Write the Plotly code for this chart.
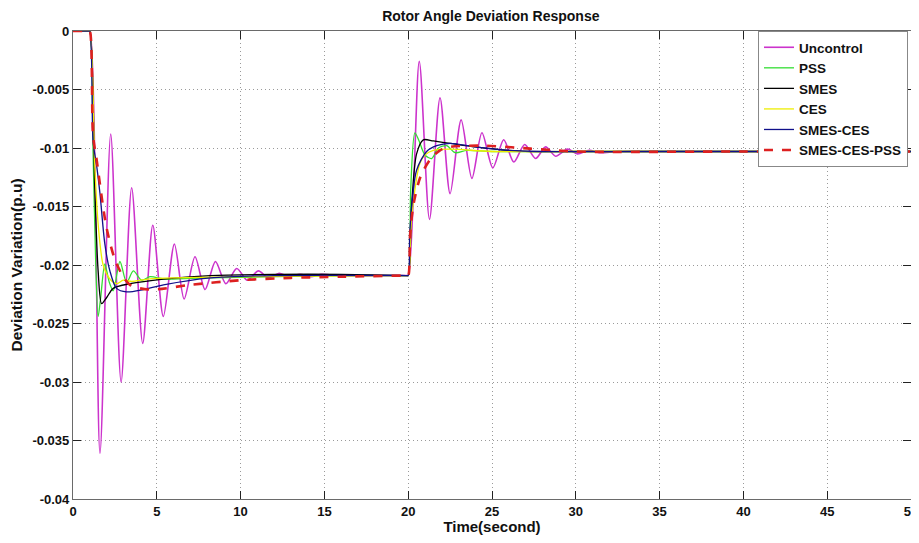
import plotly.graph_objects as go

# ---------------- data ----------------
t_unc = [0, 0.92, 1.0, 1.61, 2.25, 2.87, 3.5, 4.16, 4.76, 5.39, 6.05, 6.63, 7.28, 7.88, 8.5, 9.12, 9.77,
         10.4, 11.06, 11.65, 12.3, 12.9, 13.55, 14.2, 14.8, 16, 18, 19.9, 20.0, 20.66, 21.27, 21.9,
         22.5, 23.16, 23.8, 24.4, 25.05, 25.7, 26.3, 26.95, 27.6, 28.2, 28.8, 29.5, 30.1, 30.8,
         31.4, 32.5, 35, 40, 45, 50]
y_unc = [0, 0, 0, -0.0361, -0.0088, -0.0300, -0.0134, -0.0267, -0.0166, -0.0244, -0.0182, -0.0229,
         -0.0193, -0.0221, -0.0197, -0.0216, -0.0203, -0.0213, -0.0205, -0.0211, -0.0207, -0.0210,
         -0.0208, -0.0210, -0.0208, -0.0209, -0.0209, -0.0209, -0.0209, -0.0026, -0.0161, -0.0057,
         -0.0139, -0.0076, -0.0126, -0.0087, -0.0117, -0.0093, -0.0112, -0.0097, -0.0109, -0.0099,
         -0.0107, -0.0101, -0.0105, -0.0102, -0.0104, -0.0103, -0.0103, -0.0103, -0.0103, -0.0103]

t_pss = [0, 0.92, 1.0, 1.2, 1.35, 1.5, 1.65, 1.9, 2.15, 2.4, 2.8, 3.2, 3.6, 4.1, 4.6, 5.5, 8, 12, 16,
         19.9, 20.0, 20.15, 20.4, 20.65, 21.0, 21.4, 21.8, 22.3, 22.8, 23.5, 25, 30, 40, 50]
y_pss = [0, 0, 0, -0.0105, -0.0195, -0.0244, -0.0228, -0.0199, -0.0214, -0.0222, -0.0197, -0.0215,
         -0.0205, -0.0213, -0.0210, -0.0212, -0.0211, -0.0210, -0.0209, -0.0209, -0.0209, -0.0135,
         -0.0087, -0.0094, -0.0106, -0.0109, -0.0100, -0.0098, -0.0104, -0.0102, -0.0103, -0.0103,
         -0.0103, -0.0103]

t_smes = [0, 0.92, 1.0, 1.3, 1.5, 1.71, 2.0, 2.4, 3.4, 5.4, 8.2, 12, 16, 19.9, 20.0, 20.2, 20.5, 20.9,
          21.5, 22.5, 24, 26, 27.3, 30, 40, 50]
y_smes = [0, 0, 0, -0.0135, -0.0205, -0.0233, -0.0228, -0.0220, -0.0216, -0.0212, -0.0209, -0.0208,
          -0.0208, -0.0209, -0.0209, -0.0150, -0.0105, -0.0093, -0.0094, -0.0096, -0.0099, -0.0102,
          -0.0103, -0.0103, -0.0103, -0.0103]

t_ces = [0, 0.92, 1.0, 1.3, 1.5, 1.8, 2.2, 2.6, 3.0, 3.5, 4.5, 6, 10, 19.9, 20.0, 20.2, 20.7, 21.0, 21.5,
         22.5, 25, 30, 50]
y_ces = [0, 0, 0, -0.0115, -0.0165, -0.0200, -0.0212, -0.0216, -0.0213, -0.0214, -0.0212, -0.0211,
         -0.0210, -0.0209, -0.0209, -0.0160, -0.0113, -0.0106, -0.0102, -0.0101, -0.0103, -0.0103,
         -0.0103]

t_sc = [0, 0.92, 1.0, 1.2, 1.41, 1.61, 1.9, 2.2, 2.6, 3.2, 4.2, 5.4, 8.2, 12, 19.9, 20.0, 20.1, 20.5,
        21.1, 21.7, 22.5, 24, 26, 28, 35, 50]
y_sc = [0, 0, 0, -0.0095, -0.0115, -0.0139, -0.0182, -0.0205, -0.0220, -0.0223, -0.0221, -0.0217,
        -0.0211, -0.0209, -0.0209, -0.0209, -0.0170, -0.0119, -0.0103, -0.0098, -0.0096, -0.0099,
        -0.0102, -0.0103, -0.0103, -0.0103]

t_scp = [0, 0.92, 1.0, 1.2, 1.41, 2.0, 2.6, 3.4, 4.6, 7, 10, 13, 16, 19.9, 20.0, 20.12, 20.32, 20.72,
         21.3, 21.9, 22.5, 24.5, 27.3, 30, 40, 50]
y_scp = [0, 0, 0, -0.0090, -0.0110, -0.0168, -0.0199, -0.0217, -0.0221, -0.0217, -0.0213, -0.0211,
         -0.0210, -0.0209, -0.0209, -0.0173, -0.0148, -0.0125, -0.0110, -0.0102, -0.0099, -0.0098,
         -0.01005, -0.0103, -0.0103, -0.0103]

series_names = ["Uncontrol", "PSS", "SMES", "CES", "SMES-CES", "SMES-CES-PSS"]

x_tick_vals = [0, 5, 10, 15, 20, 25, 30, 35, 40, 45, 50]
x_tick_text = ["0", "5", "10", "15", "20", "25", "30", "35", "40", "45", "50"]
y_tick_vals = [0, -0.005, -0.01, -0.015, -0.02, -0.025, -0.03, -0.035, -0.04]
y_tick_text = ["0", "-0.005", "-0.01", "-0.015", "-0.02", "-0.025", "-0.03", "-0.035", "-0.04"]

# ---------------- figure ----------------
FONT = "Liberation Sans, Arial, sans-serif"

styles = [
    dict(color="#cc33cc", width=1.6),
    dict(color="#33dd33", width=1.3),
    dict(color="#000000", width=1.3),
    dict(color="#eeee00", width=1.3),
    dict(color="#10108a", width=1.3),
    dict(color="#dd2020", width=2.6, dash="dash"),
]
data = [(t_unc, y_unc), (t_pss, y_pss), (t_smes, y_smes), (t_ces, y_ces), (t_sc, y_sc), (t_scp, y_scp)]

fig = go.Figure()
for (tx, ty), name, st in zip(data, series_names, styles):
    fig.add_trace(go.Scatter(x=tx, y=ty, mode="lines", name=name,
                             line=dict(shape="spline", smoothing=0.8, **st)))

axis_common = dict(
    showgrid=True, gridcolor="#9a9a9a", griddash="1px,3px", gridwidth=1,
    showline=True, linecolor="#6a6a6a", linewidth=1.2, mirror="ticks",
    ticks="inside", ticklen=8, tickcolor="#222222", tickwidth=1.2,
    zeroline=False, automargin=False,
    tickfont=dict(family=FONT, size=13, color="#111111", weight="bold"),
)

# The page body adds an 8px offset, so the figure is placed at (8, 8) in the window.
fig.update_layout(
    width=911, height=527,
    margin=dict(l=65, r=8, t=23, b=36, autoexpand=False),
    paper_bgcolor="white", plot_bgcolor="white",
    title=dict(text="Rotor Angle Deviation Response", x=0.53, xanchor="center",
               y=0.993, yanchor="top", pad=dict(t=0, b=0), automargin=False,
               font=dict(family=FONT, size=14, color="#111111", weight="bold")),
    xaxis=dict(range=[0, 50], tickvals=x_tick_vals, ticktext=x_tick_text,
               title=dict(text="Time(second)", standoff=0,
                          font=dict(family=FONT, size=15, color="#111111", weight="bold")),
               **axis_common),
    yaxis=dict(range=[-0.04, 0], tickvals=y_tick_vals, ticktext=y_tick_text,
               title=dict(text="Deviation Variation(p.u)", standoff=6,
                          font=dict(family=FONT, size=15.5, color="#111111", weight="bold")),
               **axis_common),
    legend=dict(x=0.9964, xanchor="right", y=1.0, yanchor="top",
                bgcolor="white", bordercolor="#888888", borderwidth=1,
                font=dict(family=FONT, size=13.5, color="#111111", weight="bold"),
                tracegroupgap=0, itemwidth=30),
    showlegend=True,
)

fig.write_html("out.html")
